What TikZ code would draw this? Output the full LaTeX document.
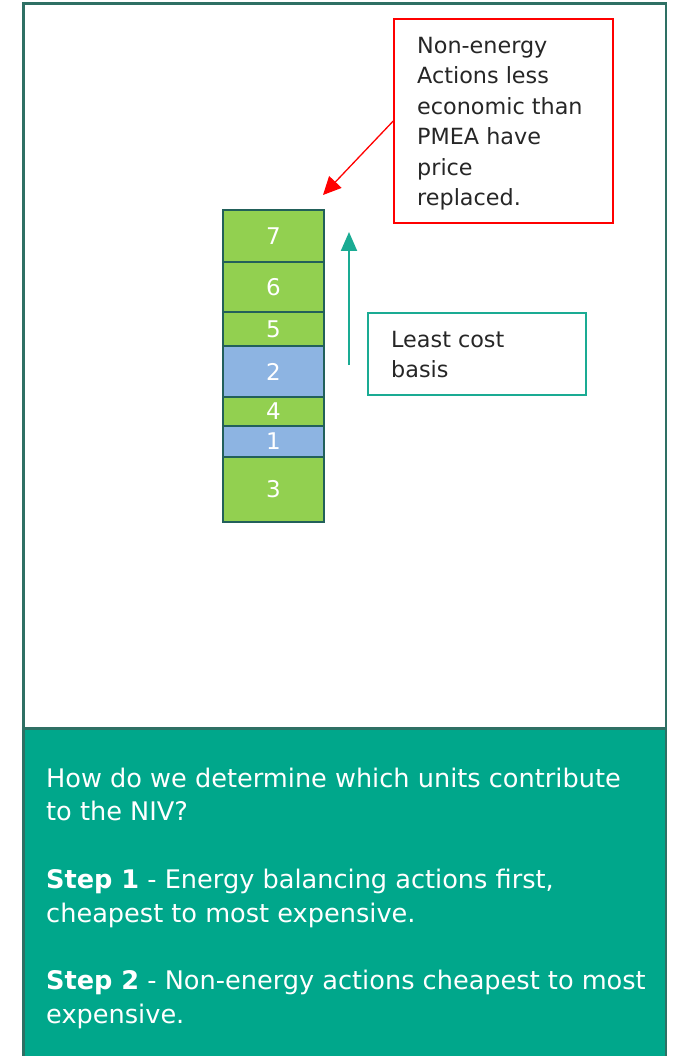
\documentclass[tikz,border=0pt]{standalone}
\usepackage{fontspec}
\setmainfont{DejaVu Sans}
\usetikzlibrary{arrows.meta}
\definecolor{framec}{HTML}{2E7064}
\definecolor{panelc}{HTML}{00A78B}
\definecolor{bargreen}{HTML}{92D050}
\definecolor{barblue}{HTML}{8DB4E2}
\definecolor{barline}{HTML}{22605A}
\definecolor{arrteal}{HTML}{1AAB93}
\definecolor{txtc}{HTML}{262626}
\begin{document}
\begin{tikzpicture}[x=1pt,y=-1pt,
  blk/.style={draw=barline, line width=1.5pt, minimum width=101pt, inner sep=0pt,
    text=white, font=\fontsize{23}{26}\selectfont},
  gblk/.style={blk, fill=bargreen},
  bblk/.style={blk, fill=barblue},
  boxtext/.style={font=\fontsize{22.3}{30.4}\selectfont, text=txtc, align=left, anchor=north west},
]
\useasboundingbox (0,0) rectangle (672,1056);
% panel and frame
\fill[panelc] (23,728.5) rectangle (666,1060);
\draw[framec, line width=2.5pt] (23.5,1060) -- (23.5,3.3) -- (666,3.3) -- (666,1060);
\draw[framec, line width=2.5pt] (23.5,728.5) -- (666,728.5);
% stack
\node[gblk, minimum height=52pt] (b7) at (273.5,236) {7};
\node[gblk, minimum height=50pt] (b6) at (273.5,287) {6};
\node[gblk, minimum height=34pt] (b5) at (273.5,329) {5};
\node[bblk, minimum height=51pt] (b2) at (273.5,371.5) {2};
\node[gblk, minimum height=29pt] (b4) at (273.5,411.5) {4};
\node[bblk, minimum height=31pt] (b1) at (273.5,441.5) {1};
\node[gblk, minimum height=65pt] (b3) at (273.5,489.5) {3};
% red box
\node[draw=red, line width=1.5pt, minimum width=219pt, minimum height=204pt, inner sep=0pt] (rbox) at (503.5,121) {};
\node[boxtext, inner sep=0pt] (rtext) at (417,32) {\strut Non-energy\\Actions less\\economic than\\PMEA have\\price\\replaced.};
\coordinate (rtip) at (323,195);
\draw[red, line width=1.3pt, -{Triangle[length=18pt,width=17pt]}] (rbox.west) -- (rtip);
% teal box
\node[draw=arrteal, line width=1.5pt, minimum width=218pt, minimum height=82pt, inner sep=0pt] (tbox) at (477,354) {};
\node[boxtext, inner sep=0pt] (ttext) at (391,326) {\strut Least cost\\basis};
\coordinate (ta) at (349,365);
\coordinate (tb) at (349,232);
\draw[arrteal, line width=2pt, -{Triangle[length=19pt,width=16pt]}] (ta) -- (tb);
% bottom text
\node[anchor=north west, inner sep=0pt, align=left, text=white, font=\fontsize{25.6}{33.8}\selectfont] (ptext) at (46,763.3) {\strut How do we determine which units contribute\\to the NIV?\\[33.8pt]\textbf{Step 1} - Energy balancing actions first,\\cheapest to most expensive.\\[33.8pt]\textbf{Step 2} - Non-energy actions cheapest to most\\expensive.};
\end{tikzpicture}
\end{document}
